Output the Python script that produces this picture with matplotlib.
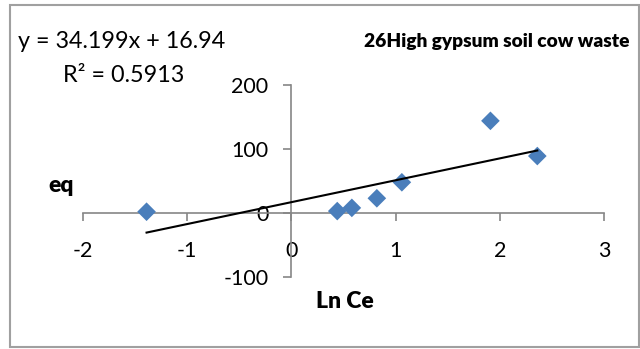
import matplotlib
matplotlib.use("Agg")
import matplotlib.pyplot as plt
from matplotlib.patches import Rectangle
import numpy as np

plt.rcParams['font.family'] = ['Lato', 'DejaVu Sans']

# Data: Ln Ce vs qe
ln_ce = [-1.39, 0.44, 0.58, 0.82, 1.06, 1.91, 2.36]
q_eq = [2, 3, 8, 23, 48, 144, 89]

# Linear trendline
slope = 34.199
intercept = 16.94
r_squared = 0.5913

x_ticks = [-2, -1, 0, 1, 2, 3]
y_ticks = [-100, 0, 100, 200]

W, H = 640, 349
fig = plt.figure(figsize=(W / 100, H / 100), dpi=100)

# Outer chart border
fig.patches.append(Rectangle((10 / W, 2 / H), 629 / W, 342 / H,
                             transform=fig.transFigure, fill=False,
                             edgecolor='#a0a0a0', linewidth=1.5))

ax = fig.add_axes([83 / W, 72 / H, 521 / W, 192 / H])
ax.set_xlim(-2, 3)
ax.set_ylim(-100, 200)

ax.scatter(ln_ce, q_eq, marker='D', s=9.5 ** 2, color='#4a7ebb',
           edgecolors='none', zorder=3)

xs = np.array([min(ln_ce), max(ln_ce)])
ax.plot(xs, slope * xs + intercept, color='black', linewidth=1.5, zorder=4)

for side in ('top', 'right'):
    ax.spines[side].set_visible(False)
for side in ('left', 'bottom'):
    ax.spines[side].set_position('zero')
    ax.spines[side].set_color('#868686')
    ax.spines[side].set_linewidth(1.2)

ax.set_xticks(x_ticks)
ax.set_yticks(y_ticks)
ax.set_xticklabels([str(v) for v in x_ticks])
ax.set_yticklabels([str(v) for v in y_ticks])
ax.tick_params(axis='x', direction='out', length=5.5, width=1.2,
               color='#868686', pad=15, labelsize=15.5)
ax.tick_params(axis='y', direction='out', length=5.5, width=1.2,
               color='#868686', pad=11, labelsize=15.5)
ax.patch.set_visible(False)

fig.text(18 / W, 1 - 42 / H, f"y = {slope}x + {intercept}",
         fontsize=16.8, ha='left', va='center')
fig.text(63 / W, 1 - 75 / H, f"R² = {r_squared}",
         fontsize=16.8, ha='left', va='center')
fig.text(630 / W, 1 - 42 / H, "26High gypsum soil cow waste",
         fontsize=13.8, fontweight='heavy', ha='right', va='center')
fig.text(48 / W, 1 - 185 / H, "eq", fontsize=16.5, fontweight='heavy',
         ha='left', va='center')
fig.text(316 / W, 1 - 302 / H, "Ln Ce", fontsize=16.5, fontweight='heavy',
         ha='left', va='center')

fig.savefig("out.png", dpi=100, facecolor='white')
